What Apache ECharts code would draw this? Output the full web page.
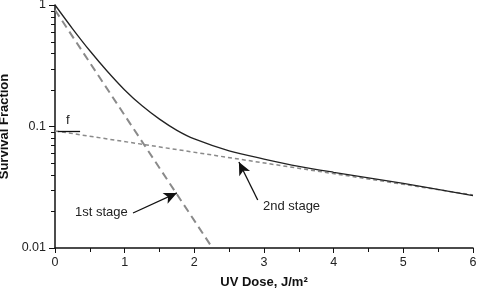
<!DOCTYPE html>
<html>
<head>
<meta charset="utf-8">
<script src="https://cdn.jsdelivr.net/npm/echarts@6/dist/echarts.min.js"></script>
<style>
  html, body { margin: 0; padding: 0; background: #fff; }
  #chart { width: 477px; height: 288px; }
</style>
</head>
<body>
<div id="chart"></div>
<script>
// data
const doses = [0, 0.25, 0.5, 0.75, 1, 1.25, 1.5, 1.75, 2, 2.5, 3, 3.5, 4, 5, 6];
const survival = [1, 0.64, 0.42, 0.285, 0.2, 0.148, 0.115, 0.093, 0.079, 0.063, 0.054, 0.047, 0.042, 0.034, 0.027];
const stage1 = [[0, 0.91], [2.26, 0.01]];
const stage2 = [[0, 0.092], [6, 0.0273]];
const fMark = [[0.04, 0.092], [0.36, 0.092]];
const arrow1 = [[1.12, 0.0194], [1.75, 0.0284]];
const arrow2 = [[2.91, 0.0248], [2.64, 0.051]];
const yTicks = [1, 0.1, 0.01];
const yMinor = [0.02, 0.03, 0.04, 0.05, 0.06, 0.07, 0.08, 0.09, 0.2, 0.3, 0.4, 0.5, 0.6, 0.7, 0.8, 0.9];

const font = 'Liberation Sans, Arial, sans-serif';
const chart = echarts.init(document.getElementById('chart'));

function arrowLine(pts) {
  return [
    { coord: pts[0], symbol: 'none' },
    { coord: pts[1], symbol: 'arrow', symbolSize: [9, 13] }
  ];
}

const option = {
  animation: false,
  grid: { left: 55, right: 4, top: 5, bottom: 40, outerBoundsMode: 'none', containLabel: false },
  xAxis: {
    type: 'value', min: 0, max: 6, interval: 1,
    name: 'UV Dose, J/m²', nameLocation: 'middle', nameGap: 28,
    nameTextStyle: { fontFamily: font, fontSize: 13, fontWeight: 'bold', color: '#111' },
    axisLine: { lineStyle: { color: '#111', width: 1.5 } },
    axisTick: { length: 5, lineStyle: { color: '#111' } },
    minorTick: { show: true, splitNumber: 2, length: 4, lineStyle: { color: '#111' } },
    axisLabel: { fontFamily: font, fontSize: 12.5, color: '#222', margin: 8 },
    splitLine: { show: false }
  },
  yAxis: {
    type: 'log', min: 0.01, max: 1, logBase: 10,
    name: 'Survival Fraction', nameLocation: 'middle', nameGap: 38,
    nameTextStyle: { fontFamily: font, fontSize: 13, fontWeight: 'bold', color: '#111' },
    axisLine: { show: true, lineStyle: { color: '#111', width: 1.5 } },
    axisTick: { show: true, length: 6, lineStyle: { color: '#111' } },
    axisLabel: {
      fontFamily: font, fontSize: 12.5, color: '#222', margin: 9,
      formatter: v => yTicks.find(t => Math.abs(t - v) < 1e-9) !== undefined ? String(v) : ''
    },
    splitLine: { show: false }
  },
  series: [
    {
      type: 'line', data: doses.map((d, i) => [d, survival[i]]),
      smooth: 0.3, showSymbol: false,
      lineStyle: { color: '#222', width: 1.3 }, z: 5
    },
    {
      type: 'line', data: stage1, showSymbol: false,
      lineStyle: { color: '#8a8a8a', width: 2, type: [8, 5] }
    },
    {
      type: 'line', data: stage2, showSymbol: false,
      lineStyle: { color: '#8a8a8a', width: 1.5, type: [4, 3] },
      markLine: {
        silent: true, animation: false,
        label: { show: false },
        lineStyle: { color: '#111', width: 1.3, type: 'solid' },
        data: [
          [{ coord: fMark[0], symbol: 'none' }, { coord: fMark[1], symbol: 'none' }],
          arrowLine(arrow1),
          arrowLine(arrow2)
        ]
      }
    }
  ],
  graphic: [
    { type: 'text', left: 66, top: 114, style: { text: 'f', font: '13px ' + font, fill: '#222' } },
    { type: 'text', left: 75, top: 206, style: { text: '1st stage', font: '13px ' + font, fill: '#222' } },
    { type: 'text', left: 263, top: 200, style: { text: '2nd stage', font: '13px ' + font, fill: '#222' } }
  ]
};
chart.setOption(option);

// minor ticks on the log axis, placed through the axis scale
const x0 = chart.convertToPixel({ xAxisIndex: 0 }, 0);
chart.setOption({
  graphic: option.graphic.concat(yMinor.map(v => {
    const py = Math.round(chart.convertToPixel({ yAxisIndex: 0 }, v)) + 0.5;
    return { type: 'line', shape: { x1: x0 - 4, y1: py, x2: x0, y2: py }, style: { stroke: '#111', lineWidth: 1 } };
  }))
});
</script>
</body>
</html>
